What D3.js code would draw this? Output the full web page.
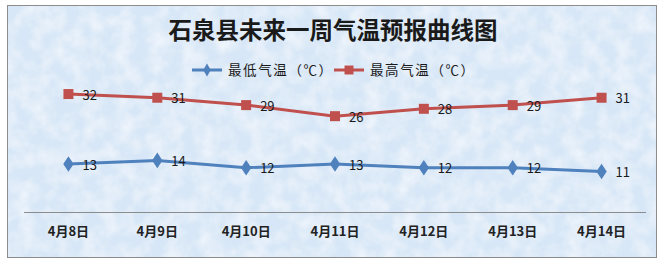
<!DOCTYPE html>
<html><head><meta charset="utf-8">
<script src="https://d3js.org/d3.v7.min.js"></script>
<style>
  body { margin: 0; background: #fff; }
  text { font-family: "Noto Sans CJK SC", "Noto Sans", sans-serif; }
</style>
</head>
<body>
<div id="chart"></div>
<script>
var days = ["4月8日", "4月9日", "4月10日", "4月11日", "4月12日", "4月13日", "4月14日"];
var lowTemps = [13, 14, 12, 13, 12, 12, 11];
var highTemps = [32, 31, 29, 26, 28, 29, 31];
var lowName = "最低气温（℃）";
var highName = "最高气温（℃）";
var titleText = "石泉县未来一周气温预报曲线图";

var width = 665, height = 265;
var blue = "#4f81bd", red = "#c0504d";

var svg = d3.select("#chart").append("svg")
  .attr("width", width)
  .attr("height", height);

// paper-like texture for the chart area
var defs = svg.append("defs");
var f = defs.append("filter").attr("id", "paper")
  .attr("x", 0).attr("y", 0).attr("width", "100%").attr("height", "100%");
f.append("feTurbulence").attr("type", "fractalNoise")
  .attr("baseFrequency", "0.06").attr("numOctaves", 3).attr("seed", 4).attr("result", "n");
f.append("feColorMatrix").attr("in", "n").attr("type", "matrix")
  .attr("values", "0 0 0 0 1  0 0 0 0 1  0 0 0 0 1  0 0 0 1 -0.35");
f.append("feComposite").attr("in2", "SourceGraphic").attr("operator", "in").attr("result", "t");
f.append("feMerge").call(function (m) {
  m.append("feMergeNode").attr("in", "SourceGraphic");
  m.append("feMergeNode").attr("in", "t");
});

svg.append("rect")
  .attr("x", 7.5).attr("y", 5.5)
  .attr("width", 649).attr("height", 252)
  .attr("fill", "#d8e7f7")
  .attr("filter", "url(#paper)");
svg.append("rect")
  .attr("x", 7.5).attr("y", 5.5)
  .attr("width", 649).attr("height", 252)
  .attr("fill", "none")
  .attr("stroke", "#8c8c8c");

// title
svg.append("text")
  .attr("x", 333).attr("y", 39)
  .attr("text-anchor", "middle")
  .attr("font-size", 23.5)
  .attr("font-weight", "bold")
  .attr("fill", "#1a1a1a")
  .text(titleText);

// scales
var x = d3.scaleBand().domain(days).range([24, 646]);
var y = d3.scaleLinear().domain([0, 35]).range([212, 83]);
var cx = function (d, i) { return x(days[i]) + x.bandwidth() / 2; };

// x axis
var xAxis = svg.append("g")
  .attr("transform", "translate(0," + 212.5 + ")")
  .call(d3.axisBottom(x).tickSize(0).tickPadding(14));
xAxis.select(".domain").attr("stroke", "#8c8c8c").attr("d", "M24,0H646");
xAxis.selectAll("text")
  .attr("font-size", 13)
  .attr("font-weight", "bold")
  .attr("fill", "#222")
  .attr("font-family", "\"Noto Sans CJK SC\", sans-serif");

var line = d3.line().x(cx).y(function (d) { return y(d); });

function drawSeries(vals, color, shape) {
  var g = svg.append("g");
  g.append("path")
    .datum(vals)
    .attr("d", line)
    .attr("fill", "none")
    .attr("stroke", color)
    .attr("stroke-width", 3);
  g.selectAll("path.m")
    .data(vals)
    .enter().append("path")
    .attr("class", "m")
    .attr("d", d3.symbol().type(shape).size(shape === d3.symbolSquare ? 100 : 70))
    .attr("transform", function (d, i) {
      return "translate(" + cx(d, i) + "," + y(d) + ")" + (shape === d3.symbolDiamond ? " scale(1.15,1)" : "");
    })
    .attr("fill", color);
  g.selectAll("text")
    .data(vals)
    .enter().append("text")
    .attr("x", function (d, i) { return cx(d, i) + 14; })
    .attr("y", function (d) { return y(d) + 5.5; })
    .attr("font-size", 13)
    .attr("fill", "#1a1a1a")
    .attr("font-family", "\"Noto Sans\", sans-serif")
    .text(function (d) { return d; });
}

drawSeries(highTemps, red, d3.symbolSquare);
drawSeries(lowTemps, blue, d3.symbolDiamond);

// legend
var legend = [
  { name: lowName, color: blue, shape: d3.symbolDiamond, x: 192 },
  { name: highName, color: red, shape: d3.symbolSquare, x: 334 }
];
var lg = svg.selectAll("g.leg").data(legend).enter().append("g")
  .attr("class", "leg")
  .attr("transform", function (d) { return "translate(" + d.x + ",70)"; });
lg.append("line").attr("x1", 0).attr("x2", 30)
  .attr("stroke", function (d) { return d.color; }).attr("stroke-width", 3);
lg.append("path")
  .attr("d", function (d) { return d3.symbol().type(d.shape).size(d.shape === d3.symbolSquare ? 80 : 50)(); })
  .attr("transform", "translate(15,0)")
  .attr("fill", function (d) { return d.color; });
lg.append("text")
  .attr("x", 36).attr("y", 5)
  .attr("font-size", 13.5)
  .attr("letter-spacing", 1.6)
  .attr("fill", "#1a1a1a")
  .text(function (d) { return d.name; });
</script>
</body></html>
